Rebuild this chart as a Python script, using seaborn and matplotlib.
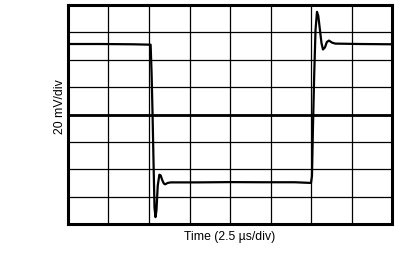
import matplotlib
matplotlib.use("Agg")
import matplotlib.pyplot as plt
import seaborn as sns
import numpy as np
import pandas as pd

# Waveform (time in µs, amplitude in mV)
time_us = [0.0, 2.0, 4.0, 5.10, 5.16, 5.22, 5.28, 5.34, 5.40, 5.46, 5.54, 5.64, 5.72, 5.82,
           5.92, 6.00, 6.15, 6.35, 8.0, 10.0, 12.0, 14.0, 15.00, 15.06, 15.12, 15.20,
           15.28, 15.37, 15.45, 15.55, 15.65, 15.74, 15.86, 15.98, 16.11, 16.30, 16.50,
           18.0, 20.0]
signal_mv = [51.5, 51.5, 51.3, 51.0, 30.0, 0.0, -35.0, -68.0, -75.0, -70.0, -52.0, -44.0,
             -44.5, -48.0, -50.5, -51.0, -50.0, -49.6, -49.6, -49.4, -49.5, -49.5, -50.0,
             -45.0, -10.0, 30.0, 62.0, 75.0, 72.0, 62.0, 52.0, 47.5, 49.0, 53.0, 54.0,
             52.5, 51.8, 51.5, 51.3]

x_label = "Time (2.5 µs/div)"
y_label = "20 mV/div"
x_divs = [0, 2.5, 5, 7.5, 10, 12.5, 15, 17.5, 20]
y_divs = [-80, -60, -40, -20, 0, 20, 40, 60, 80]

sns.set_theme(style="white")
plt.rcParams["font.family"] = ["Liberation Sans", "DejaVu Sans"]

fig = plt.figure(figsize=(4.06, 2.67), dpi=100)
ax = fig.add_axes([68 / 406, 1 - 224 / 267, 324 / 406, 219 / 267])

df = pd.DataFrame({"t": time_us, "v": signal_mv})

ax.set_xlim(x_divs[0], x_divs[-1])
ax.set_ylim(y_divs[0], y_divs[-1])
ax.set_xticks(x_divs)
ax.set_yticks(y_divs)
ax.set_xticklabels([])
ax.set_yticklabels([])
ax.tick_params(length=0)
ax.grid(True, color="black", linewidth=0.9)
ax.axhline(0, color="black", linewidth=2.0, zorder=1.5)

sns.lineplot(data=df, x="t", y="v", sort=False, estimator=None, color="black",
             linewidth=1.6, ax=ax, zorder=3)

for s in ax.spines.values():
    s.set_color("black")
    s.set_linewidth(2.2)

ax.set_xlabel(x_label, fontsize=8.8, color="black")
ax.set_ylabel(y_label, fontsize=8.8, color="black")
ax.xaxis.set_label_coords(0.5, -0.03)
ax.yaxis.set_label_coords(-0.005, 0.534)

fig.savefig("out.png", dpi=100, facecolor="white")
